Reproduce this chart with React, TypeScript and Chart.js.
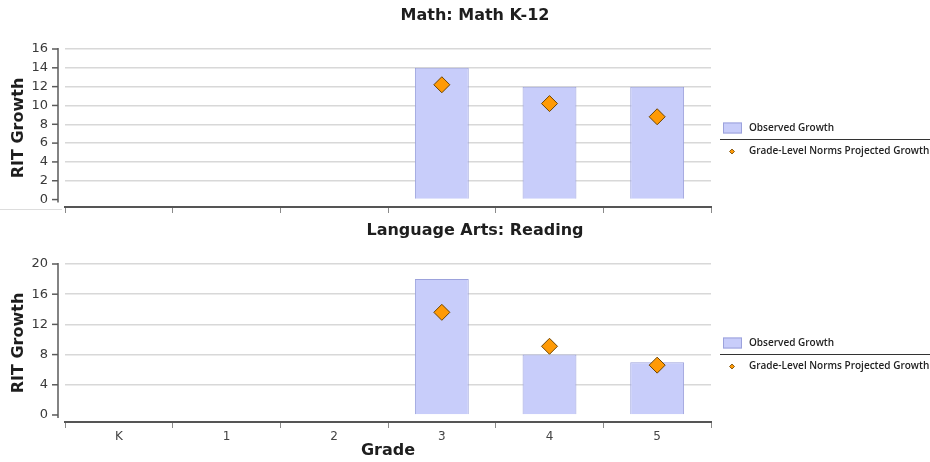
import React, { useEffect, useRef } from 'react';
import { Chart, registerables } from 'chart.js';

Chart.register(...registerables);

const grades = ['K', '1', '2', '3', '4', '5'];
const mathObserved = [null, null, null, 14, 12, 12];
const mathProjected = [null, null, null, 12.2, 10.2, 8.8];
const readingObserved = [null, null, null, 18, 8, 7];
const readingProjected = [null, null, null, 13.6, 9.1, 6.6];
const mathTicks = [0, 2, 4, 6, 8, 10, 12, 14, 16];
const readingTicks = [0, 4, 8, 12, 16, 20];
const legendLabels = ['Observed Growth', 'Grade-Level Norms Projected Growth'];
const mathTitle = 'Math: Math K-12';
const readingTitle = 'Language Arts: Reading';
const yTitle = 'RIT Growth';
const xTitle = 'Grade';

const BAR_FILL = '#c8cdfa';
const BAR_BORDER = '#9ca2dc';
const DIAMOND_FILL = '#ff9a05';
const DIAMOND_BORDER = '#6e4400';
const FONT = '"DejaVu Sans", sans-serif';

const decorPlugin = {
  id: 'decor',
  afterDraw(chart: any, _args: any, opts: any) {
    const { ctx, chartArea: ca } = chart;
    const y = chart.scales.y;
    ctx.save();
    // Title
    ctx.fillStyle = '#1e1e1e';
    ctx.font = `bold 16px ${FONT}`;
    ctx.textAlign = 'center';
    ctx.textBaseline = 'middle';
    ctx.fillText(opts.title, opts.titleX, opts.titleY);

    // Y axis line + tick marks
    const ax = ca.left - 7;
    const ticks: number[] = opts.ticks;
    const yTop = y.getPixelForValue(ticks[ticks.length - 1]);
    const y0 = y.getPixelForValue(0);
    ctx.strokeStyle = '#5a5a5a';
    ctx.lineWidth = 1.5;
    ctx.beginPath();
    ctx.moveTo(ax, yTop - 1);
    ctx.lineTo(ax, y0 + 3);
    ctx.stroke();
    ticks.forEach((v) => {
      const py = y.getPixelForValue(v);
      ctx.beginPath();
      ctx.moveTo(ax - 6, py);
      ctx.lineTo(ax, py);
      ctx.stroke();
    });

    // Legend
    const midY = (ca.top + ca.bottom) / 2;
    const lx = ca.right;
    const ds0 = chart.data.datasets[0];
    const ds1 = chart.data.datasets[1];
    ctx.fillStyle = ds0.backgroundColor;
    ctx.fillRect(lx + 12, midY - 5.5, 19, 11);
    ctx.strokeStyle = ds0.borderColor;
    ctx.lineWidth = 1;
    ctx.strokeRect(lx + 12.5, midY - 5, 18, 10);
    ctx.font = `600 10px "Open Sans", sans-serif`;
    ctx.fillStyle = '#222';
    ctx.textAlign = 'left';
    ctx.textBaseline = 'middle';
    ctx.fillText(ds0.label, lx + 38, midY + 0.5);
    ctx.strokeStyle = '#333';
    ctx.lineWidth = 1;
    ctx.beginPath();
    ctx.moveTo(lx + 9, midY + 11.5);
    ctx.lineTo(chart.width, midY + 11.5);
    ctx.stroke();
    const dx = lx + 21;
    const dy = midY + 23.5;
    ctx.fillStyle = ds1.pointBackgroundColor;
    ctx.strokeStyle = ds1.pointBorderColor;
    ctx.beginPath();
    ctx.moveTo(dx - 2.5, dy);
    ctx.lineTo(dx, dy - 2.5);
    ctx.lineTo(dx + 2.5, dy);
    ctx.lineTo(dx, dy + 2.5);
    ctx.closePath();
    ctx.fill();
    ctx.lineWidth = 0.8;
    ctx.stroke();
    ctx.fillStyle = '#222';
    ctx.fillText(ds1.label, lx + 38, dy);

    if (opts.separatorY != null) {
      ctx.strokeStyle = '#dddddd';
      ctx.lineWidth = 1;
      ctx.beginPath();
      ctx.moveTo(0, opts.separatorY);
      ctx.lineTo(ca.left - 3, opts.separatorY);
      ctx.stroke();
    }
    ctx.restore();
  },
};

function makeConfig(p: {
  title: string;
  observed: (number | null)[];
  projected: (number | null)[];
  ticks: number[];
  min: number;
  max: number;
  showX: boolean;
  chartTop: number;
  xHeight: number;
  titleY: number;
  separatorY?: number;
}): any {
  return {
    type: 'bar',
    data: {
      labels: grades,
      datasets: [
        {
          type: 'bar',
          label: legendLabels[0],
          data: p.observed,
          backgroundColor: BAR_FILL,
          borderColor: BAR_BORDER,
          borderWidth: 1,
          barPercentage: 0.5,
          categoryPercentage: 1,
          order: 2,
        },
        {
          type: 'line',
          label: legendLabels[1],
          data: p.projected,
          showLine: false,
          pointStyle: 'rectRot',
          pointRadius: 8,
          pointBackgroundColor: DIAMOND_FILL,
          pointBorderColor: DIAMOND_BORDER,
          pointBorderWidth: 1,
          order: 1,
        },
      ],
    },
    options: {
      responsive: false,
      animation: false,
      layout: { autoPadding: false, padding: { top: p.chartTop, right: 219, left: 0, bottom: 0 } },
      plugins: {
        legend: { display: false },
        title: { display: false },
        tooltip: { enabled: false },
        decor: {
          title: p.title,
          titleX: 475,
          titleY: p.titleY,
          ticks: p.ticks,
          separatorY: p.separatorY,
        },
      },
      scales: {
        x: {
          afterFit: (s: any) => {
            s.height = p.xHeight;
          },
          grid: {
            drawOnChartArea: false,
            drawTicks: true,
            tickLength: 6,
            color: '#8a8a8a',
            offset: true,
          },
          border: { display: true, color: '#555555', width: 2 },
          ticks: {
            display: p.showX,
            color: '#444',
            font: { family: FONT, size: 12 },
            padding: 2,
          },
          title: {
            display: p.showX,
            text: xTitle,
            color: '#1e1e1e',
            font: { family: FONT, size: 16, weight: 'bold' },
            padding: { top: 0, bottom: 2 },
          },
        },
        y: {
          bounds: 'data',
          min: p.min,
          max: p.max,
          afterBuildTicks: (s: any) => {
            s.ticks = p.ticks.map((v) => ({ value: v }));
          },
          afterFit: (s: any) => {
            s.width = 65;
          },
          grid: {
            color: (c: any) => (c.tick && c.tick.value === 0 ? 'rgba(0,0,0,0)' : '#d8d8d8'),
            lineWidth: 1.5,
            drawTicks: true,
            tickLength: 17,
            tickColor: 'rgba(0,0,0,0)',
          },
          border: { display: false },
          ticks: {
            color: '#3a3a3a',
            font: { family: FONT, size: 13, lineHeight: 0.3 },
            padding: 0,
          },
          title: {
            display: true,
            text: yTitle,
            color: '#1e1e1e',
            font: { family: FONT, size: 16, weight: 'bold' },
            padding: { top: 9, bottom: 0 },
          },
        },
      },
    },
    plugins: [decorPlugin],
  };
}

function ChartCanvas({ config, width, height }: { config: any; width: number; height: number }) {
  const ref = useRef<HTMLCanvasElement | null>(null);
  useEffect(() => {
    if (!ref.current) return;
    const chart = new Chart(ref.current, config);
    return () => chart.destroy();
  }, []);
  return <canvas ref={ref} width={width} height={height} style={{ display: 'block', width, height }} />;
}

export default function App() {
  const topConfig = makeConfig({
    title: mathTitle,
    observed: mathObserved,
    projected: mathProjected,
    ticks: mathTicks,
    min: -0.79,
    max: 16,
    showX: false,
    chartTop: 49,
    xHeight: 6,
    titleY: 16,
    separatorY: 209.5,
  });
  const bottomConfig = makeConfig({
    title: readingTitle,
    observed: readingObserved,
    projected: readingProjected,
    ticks: readingTicks,
    min: -0.93,
    max: 20,
    showX: true,
    chartTop: 51,
    xHeight: 40,
    titleY: 18,
  });
  return (
    <div style={{ position: 'absolute', left: 0, top: 0, width: 930, height: 462, background: '#fff', overflow: 'hidden' }}>
      <ChartCanvas config={topConfig} width={930} height={213} />
      <ChartCanvas config={bottomConfig} width={930} height={249} />
    </div>
  );
}
